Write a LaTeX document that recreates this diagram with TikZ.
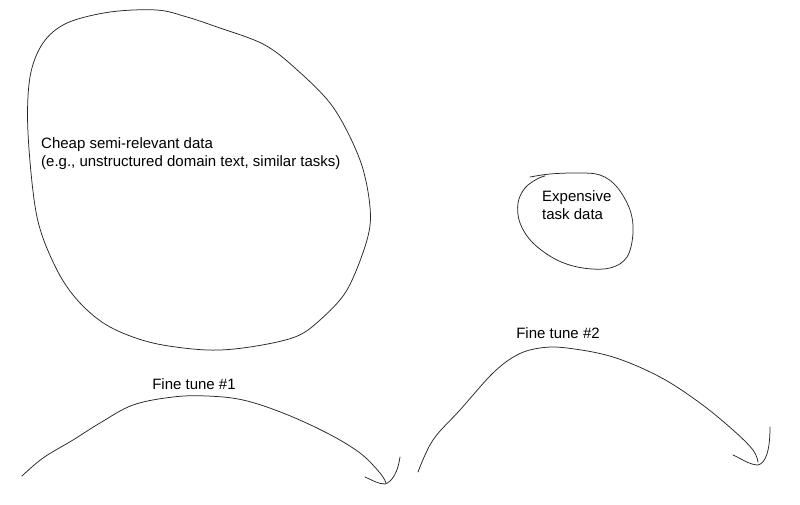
\documentclass[tikz,border=0pt]{standalone}
\usepackage{fontspec}
\setmainfont{Liberation Sans}
\begin{document}
\begin{tikzpicture}[x=1pt,y=-1pt,
  sketch/.style={draw=black!85,line width=0.75pt,line cap=round,line join=round},
  lbl/.style={font=\fontsize{15}{17.5}\selectfont,anchor=base west,inner sep=0pt,align=left}]
\useasboundingbox (0,0) rectangle (800,504);
% big blob
\draw[sketch] plot[smooth cycle,tension=0.55] coordinates {
 (30,77) (43,43) (67,23) (110,12) (157,10) (187,17) (217,27) (263,44) (295,68)
 (333,107) (360,160) (370,207) (367,240) (347,290) (320,320) (295,337) (250,347)
 (207,350) (153,343) (110,327) (80,303) (57,270) (37,217) (28,133)};
\node[lbl] (cheap) at (41,166) {Cheap semi-relevant data\\(e.g., unstructured domain text, similar tasks)};
% small blob
\draw[sketch] plot[smooth,tension=0.6] coordinates {
 (530,177) (550,174) (577,173) (600,175) (617,187) (630,210) (633,233) (627,257)
 (610,268) (583,268) (557,260) (533,243) (520,223) (518,203) (525,188) (537,179) (545,176)};
\node[lbl] (exp) at (542,219) {Expensive\\task data};
% fine tune 1
\draw[sketch] plot[smooth,tension=0.6] coordinates {
 (22,476) (43,458) (73,440) (100,423) (133,405) (173,397) (207,396) (243,400)
 (283,413) (327,433) (360,453) (380,473) (386,483)};
\draw[sketch] (365,477) .. controls (372,480) and (378,484) .. (385,484)
  .. controls (392,482) and (398,472) .. (400,457);
\node[lbl,anchor=base] (ft1) at (194,389) {Fine tune \#1};
% fine tune 2
\draw[sketch] plot[smooth,tension=0.6] coordinates {
 (418,472) (433,440) (460,410) (493,373) (517,355) (540,348) (567,348) (613,357)
 (660,377) (700,403) (733,430) (753,450) (758,462)};
\draw[sketch] (733,455) .. controls (742,459) and (750,465) .. (758,465)
  .. controls (766,463) and (770,450) .. (770,427);
\node[lbl,anchor=base] (ft2) at (558,338) {Fine tune \#2};
\end{tikzpicture}
\end{document}
